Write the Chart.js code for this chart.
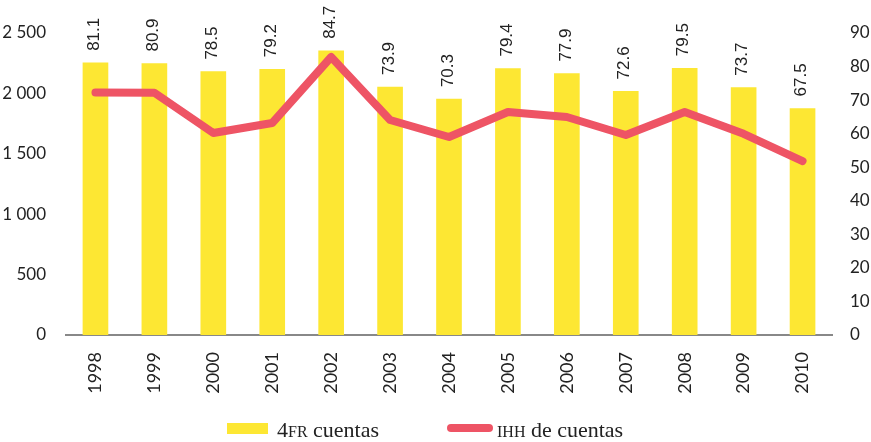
<!DOCTYPE html>
<html>
<head>
<meta charset="utf-8">
<script src="https://cdn.jsdelivr.net/npm/chart.js@4"></script>
<style>
  body { margin: 0; background: #fff; }
  #wrap { position: relative; width: 871px; height: 442px; }
  .leg { position: absolute; font-family: "Liberation Serif", serif; font-size: 22px; color: #222; line-height: 24px; }
  .sc { font-variant: small-caps; font-size: 23px; }
  .box { position: absolute; }
</style>
</head>
<body>
<div id="wrap">
  <canvas id="chart"></canvas>
  <div class="box" style="left:227px;top:423px;width:41px;height:11px;background:#fde733;"></div>
  <div class="leg" style="left:277px;top:418px;">4<span class="sc">fr</span> cuentas</div>
  <div class="box" style="left:447px;top:424px;width:46px;height:8px;border-radius:4px;background:#ee5465;"></div>
  <div class="leg" style="left:497px;top:418px;"><span class="sc">ihh</span> de cuentas</div>
</div>
<script>
// Données
const years = ["1998", "1999", "2000", "2001", "2002", "2003", "2004", "2005", "2006", "2007", "2008", "2009", "2010"];
const cuentas4fr = [81.1, 80.9, 78.5, 79.2, 84.7, 73.9, 70.3, 79.4, 77.9, 72.6, 79.5, 73.7, 67.5];
const ihhCuentas = [2008, 2005, 1672, 1755, 2301, 1780, 1639, 1846, 1805, 1656, 1846, 1665, 1440];
const leftTicks = [0, 500, 1000, 1500, 2000, 2500];
const rightTicks = [0, 10, 20, 30, 40, 50, 60, 70, 80, 90];

// Étiquettes verticales au-dessus des barres
const barLabels = {
  id: "barLabels",
  afterDatasetsDraw(chart) {
    const ctx = chart.ctx;
    const meta = chart.getDatasetMeta(0);
    ctx.save();
    ctx.font = "17px 'Liberation Sans', Arial, sans-serif";
    ctx.fillStyle = "#222";
    ctx.textAlign = "left";
    ctx.textBaseline = "middle";
    meta.data.forEach((bar, i) => {
      ctx.save();
      ctx.translate(bar.x - 1, bar.y - 12);
      ctx.rotate(-Math.PI / 2);
      ctx.fillText(cuentas4fr[i].toFixed(1), 0, 0);
      ctx.restore();
    });
    ctx.restore();
  },
};

const tickFont = { family: "Lato, sans-serif", size: 17 };

new Chart(document.getElementById("chart"), {
  data: {
    labels: years,
    datasets: [
      {
        type: "bar",
        label: "4FR cuentas",
        data: cuentas4fr,
        yAxisID: "y1",
        backgroundColor: "#fde733",
        barThickness: 25,
        order: 2,
      },
      {
        type: "line",
        label: "IHH de cuentas",
        data: ihhCuentas,
        yAxisID: "y",
        borderColor: "#ee5465",
        borderWidth: 8,
        pointRadius: 0,
        tension: 0,
        borderCapStyle: "round",
        borderJoinStyle: "round",
        order: 1,
      },
    ],
  },
  plugins: [barLabels],
  options: {
    responsive: true,
    maintainAspectRatio: false,
    animation: false,
    layout: { padding: { top: 33 } },
    plugins: {
      legend: { display: false },
      tooltip: { enabled: false },
    },
    scales: {
      x: {
        offset: true,
        grid: { display: false },
        border: { color: "#888", width: 2 },
        ticks: { font: { family: "Lato, sans-serif", size: 18 }, color: "#222", minRotation: 90, maxRotation: 90, padding: 9 },
        afterFit(scale) { scale.height = 107; },
      },
      y: {
        position: "left",
        min: 0,
        max: 2500,
        afterBuildTicks(scale) { scale.ticks = leftTicks.map((v) => ({ value: v })); },
        grid: { display: false },
        border: { display: false },
        ticks: {
          font: tickFont,
          color: "#222",
          padding: 12,
          callback: (v) => (v >= 1000 ? String(v).replace(/(\d)(\d{3})$/, "$1 $2") : String(v)),
        },
        afterFit(scale) { scale.width = 66; },
      },
      y1: {
        position: "right",
        min: 0,
        max: 90,
        afterBuildTicks(scale) { scale.ticks = rightTicks.map((v) => ({ value: v })); },
        grid: { display: false },
        border: { display: false },
        ticks: { font: tickFont, color: "#222", padding: 10 },
        afterFit(scale) { scale.width = 39; },
      },
    },
  },
});
</script>
</body>
</html>
